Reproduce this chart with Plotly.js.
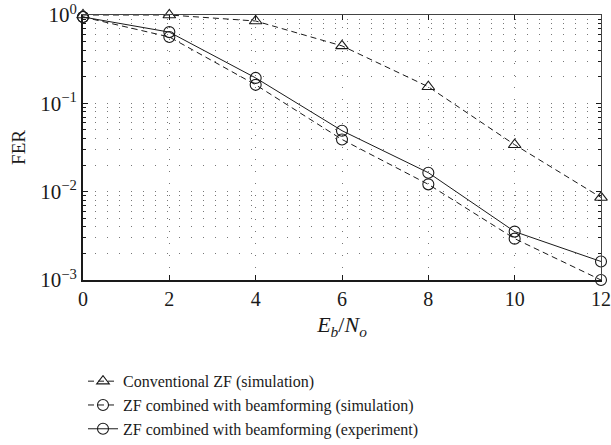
<!DOCTYPE html>
<html>
<head>
<meta charset="utf-8">
<script src="https://cdn.plot.ly/plotly-3.0.1.min.js"></script>
<style>html,body{margin:0;padding:0;background:#fff;}#chart{width:611px;height:445px;}</style>
</head>
<body>
<div id="chart"></div>
<script>
const ebno = [0, 2, 4, 6, 8, 10, 12];
const convZF = [1.0, 1.0, 0.855, 0.447, 0.154, 0.034, 0.0086];
const zfBfSim = [0.95, 0.564, 0.162, 0.039, 0.0121, 0.00294, 0.001];
const zfBfExp = [0.95, 0.64, 0.194, 0.049, 0.0164, 0.00353, 0.00162];
const names = [
  'Conventional ZF (simulation)',
  'ZF combined with beamforming (simulation)',
  'ZF combined with beamforming (experiment)'
];
const yTickVals = [1, 0.1, 0.01, 0.001];
const yTickText = ['10<sup>0</sup>', '10<sup>\u22121</sup>', '10<sup>\u22122</sup>', '10<sup>\u22123</sup>'];
const xTickVals = [0, 2, 4, 6, 8, 10, 12];

const ink = '#1a1a1a';
const fontFam = '"Liberation Serif", "DejaVu Serif", serif';
const dashStyle = '6px,4px';

const traces = [
  {x: ebno, y: convZF, name: names[0], mode: 'lines+markers', cliponaxis: false,
   line: {color: ink, width: 1, dash: dashStyle},
   marker: {symbol: 'triangle-up-open', size: 11, color: ink, line: {width: 1.1, color: ink}}},
  {x: ebno, y: zfBfSim, name: names[1], mode: 'lines+markers', cliponaxis: false,
   line: {color: ink, width: 1, dash: dashStyle},
   marker: {symbol: 'circle-open', size: 11, color: ink, line: {width: 1.1, color: ink}}},
  {x: ebno, y: zfBfExp, name: names[2], mode: 'lines+markers', cliponaxis: false,
   line: {color: ink, width: 1},
   marker: {symbol: 'circle-open', size: 11, color: ink, line: {width: 1.1, color: ink}}}
];

const gridDash = '1px,11px';
const gridCol = '#777';
const layout = {
  width: 611, height: 445,
  margin: {l: 83, r: 10, t: 15, b: 165, autoexpand: false},
  paper_bgcolor: '#fff', plot_bgcolor: '#fff',
  font: {family: fontFam, color: ink, size: 18},
  showlegend: true,
  legend: {x: 0.0, y: -0.318, xanchor: 'left', yanchor: 'top',
           font: {family: fontFam, size: 16, color: ink}, tracegroupgap: 0,
           itemwidth: 30, bgcolor: 'rgba(0,0,0,0)'},
  xaxis: {
    range: [0, 12], tickvals: xTickVals, ticktext: xTickVals.map(String),
    showline: true, linewidth: 2, linecolor: ink, mirror: false,
    ticks: 'inside', ticklen: 5, tickcolor: ink, ticklabeloverflow: 'allow',
    showgrid: true, gridcolor: gridCol, gridwidth: 1, griddash: gridDash,
    zeroline: false, tickfont: {size: 20, family: fontFam},
    title: {text: '<i>E<sub>b</sub></i>/<i>N<sub>o</sub></i>', font: {size: 22, family: fontFam}, standoff: 8}
  },
  yaxis: {
    type: 'log', range: [-3, 0], tickvals: yTickVals, ticktext: yTickText,
    showline: true, linewidth: 2, linecolor: ink, mirror: false,
    ticks: 'inside', ticklen: 5, tickcolor: ink, ticklabeloverflow: 'allow',
    showgrid: true, gridcolor: gridCol, gridwidth: 1, griddash: gridDash,
    minor: {dtick: 'D1', ticks: 'inside', ticklen: 3, tickcolor: ink, showgrid: true,
            gridcolor: gridCol, gridwidth: 1, griddash: gridDash},
    zeroline: false, tickfont: {size: 21, family: fontFam},
    title: {text: 'FER', font: {size: 19, family: fontFam}, standoff: 10}
  },
  xaxis2: {
    overlaying: 'x', side: 'top', range: [0, 12], tickvals: xTickVals,
    showticklabels: false, showline: true, linewidth: 1.3, linecolor: '#444',
    ticks: 'inside', ticklen: 5, tickcolor: ink, showgrid: false, zeroline: false
  },
  yaxis2: {
    overlaying: 'y', side: 'right', type: 'log', range: [-3, 0], tickvals: yTickVals,
    showticklabels: false, showline: true, linewidth: 1.3, linecolor: '#444',
    ticks: 'inside', ticklen: 5, tickcolor: ink, showgrid: false, zeroline: false,
    minor: {dtick: 'D1', ticks: 'inside', ticklen: 3, tickcolor: ink, showgrid: false}
  }
};

const dummy = {x: [0], y: [1], xaxis: 'x2', yaxis: 'y2', mode: 'markers',
               marker: {opacity: 0}, showlegend: false, hoverinfo: 'skip'};

Plotly.newPlot('chart', [dummy].concat(traces), layout, {displayModeBar: false, staticPlot: true});
</script>
</body>
</html>
